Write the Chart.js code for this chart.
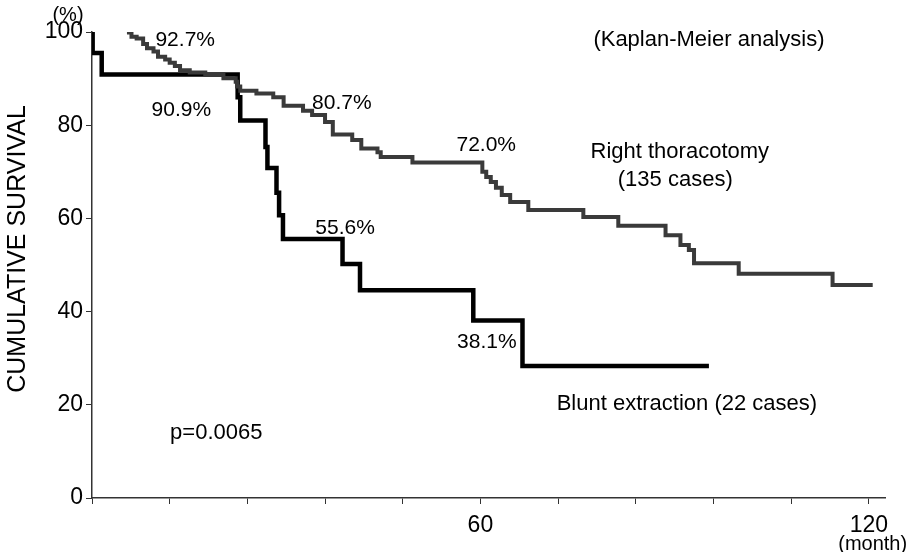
<!DOCTYPE html>
<html>
<head>
<meta charset="utf-8">
<title>Kaplan-Meier survival</title>
<script src="https://cdn.jsdelivr.net/npm/chart.js@4.4.0/dist/chart.umd.min.js"></script>
<style>
  html, body { margin: 0; padding: 0; background: #fff; }
  #wrap { width: 914px; height: 552px; }
</style>
</head>
<body>
<div id="wrap"><canvas id="kmChart" width="914" height="552"></canvas></div>
<script>
// months since operation / cumulative survival (%)
const thoracotomyMonths = [5.4, 6.1, 6.9, 7.9, 8.5, 9.5, 10.2, 11.3, 12.0, 12.8, 13.6, 15.1, 17.5, 20.3, 22.2, 22.4, 22.9, 25.4, 28.0, 29.6, 32.6, 34.0, 36.0, 37.2, 40.2, 41.6, 44.1, 44.6, 49.5, 60.3, 60.9, 61.6, 62.4, 63.3, 64.6, 67.4, 75.9, 81.3, 88.6, 90.9, 92.2, 93.0, 99.9, 114.4, 120.6]
const thoracotomySurvival = [99.9, 99.0, 98.6, 97.4, 96.5, 95.8, 94.7, 94.1, 93.4, 92.7, 91.8, 91.3, 90.8, 90.1, 89.3, 88.3, 87.4, 86.8, 86.0, 84.2, 83.1, 82.2, 80.7, 78.0, 76.8, 75.0, 74.2, 73.2, 72.0, 70.0, 68.9, 67.8, 66.6, 65.0, 63.5, 61.8, 60.3, 58.4, 56.4, 54.3, 53.2, 50.4, 48.1, 45.7, 45.7]

const bluntMonths = [0, 0.1, 1.5, 22.5, 22.9, 26.8, 27.1, 28.5, 28.9, 29.5, 38.7, 41.4, 58.9, 66.5, 95.3]
const bluntSurvival = [100, 95.5, 90.9, 86.0, 81.0, 75.3, 70.8, 65.5, 60.7, 55.6, 50.2, 44.6, 38.1, 28.3, 28.3]

const xTickLabels = { 60: "60", 120: "120" }
const yTickValues = [0, 20, 40, 60, 80, 100]

// text placed on the plot, in data units
const annotations = [
  { text: "92.7%", x: 14.4, y: 98.3, size: 21 },
  { text: "90.9%", x: 13.8, y: 83.3, size: 21 },
  { text: "80.7%", x: 38.6, y: 84.8, size: 21 },
  { text: "72.0%", x: 60.9, y: 75.8, size: 21 },
  { text: "55.6%", x: 39.1, y: 57.9, size: 21 },
  { text: "38.1%", x: 61.0, y: 33.5, size: 21 },
  { text: "Right thoracotomy", x: 90.8, y: 74.2, size: 22 },
  { text: "(135 cases)", x: 90.1, y: 68.2, size: 22 },
  { text: "Blunt extraction (22 cases)", x: 91.9, y: 20.2, size: 22 },
  { text: "(Kaplan-Meier analysis)", x: 95.3, y: 98.3, size: 22 },
  { text: "p=0.0065", x: 19.2, y: 13.9, size: 22 },
]

const FONT = "'Liberation Sans', Arial, Helvetica, sans-serif"

function toPoints(xs, ys) {
  return xs.map((x, i) => ({ x: x, y: ys[i] }))
}

const textPlugin = {
  id: "kmText",
  afterDraw(chart) {
    const ctx = chart.ctx
    const xs = chart.scales.x
    const ys = chart.scales.y
    ctx.save()
    ctx.fillStyle = "#000"
    ctx.textAlign = "center"
    ctx.textBaseline = "middle"
    annotations.forEach((a) => {
      ctx.font = a.size + "px " + FONT
      ctx.fillText(a.text, xs.getPixelForValue(a.x), ys.getPixelForValue(a.y))
    })

    // unit labels at the axis ends
    ctx.font = "20px " + FONT
    ctx.fillText("(%)", ys.left + 68, ys.top - 17)
    ctx.fillText("(month)", xs.getPixelForValue(120.6), xs.bottom - 8)

    // y axis title
    ctx.font = "25px " + FONT
    ctx.translate(18, (chart.chartArea.top + chart.chartArea.bottom) / 2 - 16)
    ctx.rotate(-Math.PI / 2)
    ctx.fillText("CUMULATIVE SURVIVAL", 0, 0)
    ctx.restore()
  },
}

const ctx = document.getElementById("kmChart").getContext("2d")

new Chart(ctx, {
  type: "line",
  data: {
    datasets: [
      {
        label: "Right thoracotomy (135 cases)",
        data: toPoints(thoracotomyMonths, thoracotomySurvival),
        borderColor: "#3a3a3a",
        borderWidth: 4,
        stepped: true,
        pointRadius: 0,
        fill: false,
      },
      {
        label: "Blunt extraction (22 cases)",
        data: toPoints(bluntMonths, bluntSurvival),
        borderColor: "#000000",
        borderWidth: 4.5,
        stepped: true,
        pointRadius: 0,
        fill: false,
      },
    ],
  },
  options: {
    responsive: false,
    animation: false,
    layout: { padding: { top: 32, right: 29, left: 0, bottom: 0 } },
    plugins: {
      legend: { display: false },
      tooltip: { enabled: false },
    },
    scales: {
      x: {
        type: "linear",
        min: 0,
        max: 122.5,
        afterFit: (scale) => { scale.height = 54 },
        afterBuildTicks: (scale) => {
          const t = []
          for (let v = 0; v <= 120; v += 12) t.push({ value: v })
          scale.ticks = t
        },
        ticks: {
          autoSkip: false,
          maxRotation: 0,
          padding: 8,
          color: "#000",
          font: { family: FONT, size: 23 },
          callback: (v) => xTickLabels[v] || "",
        },
        grid: { drawOnChartArea: false, drawTicks: true, tickLength: 6, color: "#333" },
        border: { display: true, color: "#333", width: 1.5 },
      },
      y: {
        type: "linear",
        min: 0,
        max: 100,
        afterFit: (scale) => { scale.width = 92 },
        afterBuildTicks: (scale) => {
          scale.ticks = yTickValues.map((v) => ({ value: v }))
        },
        ticks: {
          padding: 3,
          color: "#000",
          font: { family: FONT, size: 23 },
        },
        grid: { drawOnChartArea: false, drawTicks: true, tickLength: 6, color: "#333" },
        border: { display: true, color: "#333", width: 1.5 },
      },
    },
  },
  plugins: [textPlugin],
})
</script>
</body>
</html>
